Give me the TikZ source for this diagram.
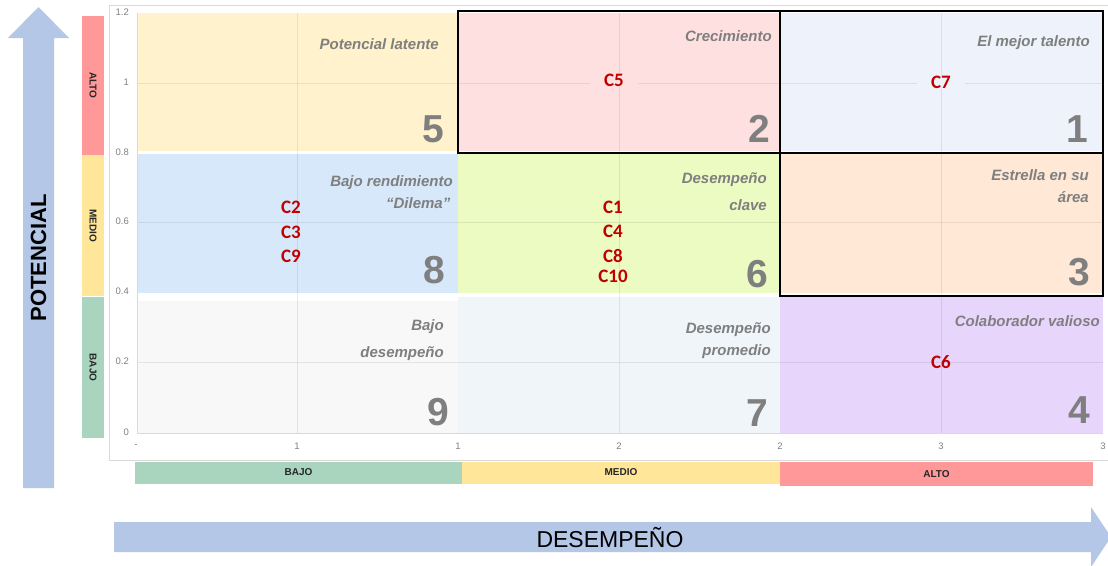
\documentclass[tikz,border=0pt]{standalone}
\usepackage{fontspec}
\setmainfont{Liberation Sans}
\newfontfamily\cfont{Carlito}
\usepackage{tikz}
\usetikzlibrary{positioning,calc}
\definecolor{arrowblue}{HTML}{B4C7E7}
\definecolor{barred}{HTML}{FF9999}
\definecolor{baryellow}{HTML}{FFE699}
\definecolor{bargreen}{HTML}{A9D5BF}
\definecolor{cell5}{HTML}{FFF2CC}
\definecolor{cell2}{HTML}{FFE0E0}
\definecolor{cell1}{HTML}{EEF2FA}
\definecolor{cell8}{HTML}{D6E8FA}
\definecolor{cell6}{HTML}{EBFBC1}
\definecolor{cell3}{HTML}{FFE9D6}
\definecolor{cell9}{HTML}{F8F8F8}
\definecolor{cell7}{HTML}{F0F5FA}
\definecolor{cell4}{HTML}{E8D5FC}
\definecolor{labelgrey}{HTML}{7F7F7F}
\definecolor{personred}{HTML}{C00000}
\tikzset{
    cell label/.style={
        font=\fontsize{15}{18}\selectfont\bfseries\itshape,
        text=labelgrey,
        anchor=east,
        align=right,
        inner sep=0pt
    },
    box number/.style={
        font=\fontsize{39}{39}\selectfont\bfseries,
        text=labelgrey,
        anchor=base east,
        inner sep=0pt
    },
    person/.style={
        font=\cfont\fontsize{19}{19}\selectfont\bfseries,
        text=personred,
        inner sep=1pt
    },
    level bar/.style={
        minimum height=22pt,
        inner sep=0pt,
        font=\fontsize{10}{10}\selectfont\bfseries,
        text=black!85
    },
    tick label/.style={
        font=\fontsize{9.5}{10}\selectfont,
        text=black!50,
        inner sep=0pt
    },
    grid line/.style={draw=black, opacity=0.08, line width=1pt},
    top box/.style={draw=black, line width=2pt},
    big arrow/.style={fill=arrowblue}
}
\begin{document}
\begin{tikzpicture}[x=1pt,y=-1pt]
          \useasboundingbox (0,0) rectangle (1108,565);
          \clip (0,0) rectangle (1108,565);

          % arrows of the two axes
          \fill[big arrow] (23,488) -- (23,38) -- (8,38) -- (38.5,7) -- (69,38) -- (54,38) -- (54,488) -- cycle;
          \node[font=\fontsize{22}{22}\selectfont\bfseries, rotate=90] (potencial) at (38.5,258) {POTENCIAL};
          \fill[big arrow] (114,522) -- (1091,522) -- (1091,507) -- (1111,537) -- (1091,567) -- (1091,552) -- (114,552) -- cycle;
          \node[font=\fontsize{23}{23}\selectfont] (desempeno) at (610,538) {DESEMPEÑO};

          % level bars
          \node[level bar, fill=barred, minimum width=139pt, rotate=-90] (palto) at (93,85.5) {ALTO};
          \node[level bar, fill=baryellow, minimum width=141pt, rotate=-90] (pmedio) at (93,225.5) {MEDIO};
          \node[level bar, fill=bargreen, minimum width=141pt, rotate=-90] (pbajo) at (93,367.5) {BAJO};
          \node[level bar, fill=bargreen, minimum width=327pt] (dbajo) at (298.5,472.5) {BAJO};
          \node[level bar, fill=baryellow, minimum width=318pt] (dmedio) at (621,472.5) {MEDIO};
          \node[level bar, fill=barred, minimum width=313pt, minimum height=24pt] (dalto) at (936.5,474) {ALTO};

          % chart
          \draw[draw=black!15, fill=white] (109,5) rectangle (1115,460);
          \foreach \k/\xa/\ya/\xb/\yb in {5/137/13/458/151, 2/458/13/780/151, 1/780/13/1103/151,
                                          8/137/154/458/293, 6/458/154/780/293, 3/780/154/1103/293,
                                          9/137/301/458/433, 7/458/297/780/433, 4/780/297/1103/433}
            \fill[cell\k] (\xa,\ya) rectangle (\xb,\yb);
          \foreach \x in {297,619,941}
            \draw[grid line] (\x,13) -- (\x,433);
          \foreach \y in {83,222,362}
            \draw[grid line] (137,\y) -- (1103,\y);
          \draw[draw=black!15, line width=1pt] (137,13) -- (137,433) -- (1103,433);
          \draw[top box] (458,11) rectangle (780,153);
          \draw[top box] (780,11) rectangle (1103,153);
          \draw[top box] (780,153) rectangle (1103,296);

          \foreach \v/\y in {1.2/12,1/82,0.8/152,0.6/221,0.4/291,0.2/361,0/432}
            \node[tick label, anchor=east] (ty\y) at (129,\y) {\v};
          \foreach \v/\x in {-/136,1/297,1/458,2/619,2/780,3/941,3/1103}
            \node[tick label] (tx\x) at (\x,446) {\v};

          \node[cell label] (t5) at (439,44) {Potencial latente};
          \node[cell label] (t2) at (772,36) {Crecimiento};
          \node[cell label] (t1) at (1090,43) {El mejor talento};
          \node[cell label] (t8) at (453,192.5) {Bajo rendimiento\\[4pt]“Dilema”\,};
          \node[cell label] (t6) at (767,191.5) {Desempeño\\[9pt]clave};
          \node[cell label] (t3) at (1089,186) {Estrella en su\\[4pt]área};
          \node[cell label] (t9) at (444,340.5) {Bajo\\[9pt]desempeño};
          \node[cell label] (t7) at (771,341) {Desempeño\\[4pt]promedio};
          \node[cell label] (t4) at (1100,321) {Colaborador valioso};

          \node[box number] (n5) at (444,142) {5};
          \node[box number] (n2) at (770,142) {2};
          \node[box number] (n1) at (1088,142) {1};
          \node[box number] (n8) at (445,283) {8};
          \node[box number] (n6) at (768,287) {6};
          \node[box number] (n3) at (1090,285) {3};
          \node[box number] (n9) at (449,425) {9};
          \node[box number] (n7) at (768,426) {7};
          \node[box number] (n4) at (1090,423) {4};

          \node[person, fill=cell2, inner xsep=14pt] (c5) at (614,80) {C5};
          \node[person, fill=cell1, inner xsep=14pt] (c7) at (941,82) {C7};
          \foreach \c/\y in {2/207,3/232,9/256}
            \node[person] (c\c) at (291,\y) {C\c};
          \foreach \c/\y in {1/207,4/231,8/256,10/276}
            \node[person] (c\c) at (613,\y) {C\c};
          \node[person] (c6) at (941,362) {C6};
\end{tikzpicture}
\end{document}
